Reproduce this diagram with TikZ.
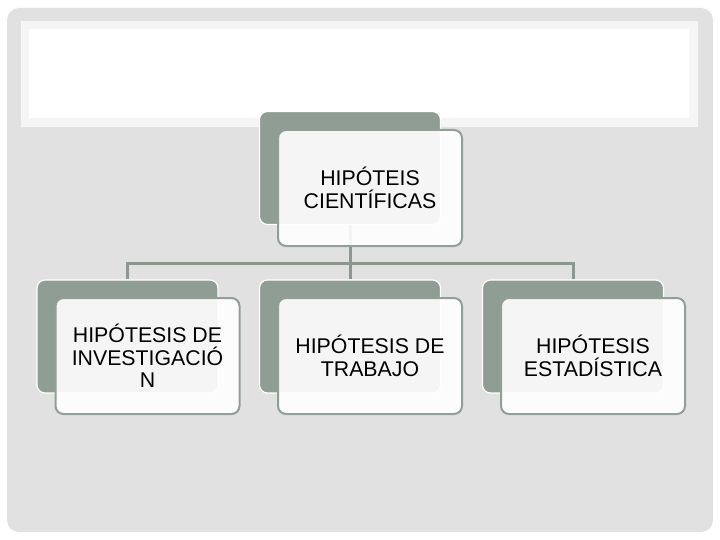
\documentclass[tikz,border=0pt]{standalone}
\usepackage{fontspec}
\setmainfont{Liberation Sans}
\begin{document}
\begin{tikzpicture}[x=1pt,y=-1pt,
  backbox/.style={rectangle, rounded corners=8pt, fill=boxgrey, draw=white, line width=1.2pt,
    minimum width=181pt, minimum height=113pt, inner sep=0pt},
  frontbox/.style={rectangle, rounded corners=8pt, fill=white, fill opacity=0.9, text opacity=1,
    draw=edgegrey, line width=2pt, minimum width=184pt, minimum height=116pt, inner sep=1pt,
    align=center, font=\fontsize{21.3}{22.5}\selectfont},
  conn/.style={draw=linegrey, line width=3pt}
]
\definecolor{boxgrey}{HTML}{909D95}
\definecolor{edgegrey}{HTML}{939E97}
\definecolor{linegrey}{HTML}{8C978F}
\definecolor{bggrey}{HTML}{E1E1E1}
\definecolor{bannerrim}{HTML}{F4F5F4}
\useasboundingbox (0,0) rectangle (720,540);
\fill[white] (0,0) rectangle (720,540);
\fill[bggrey, rounded corners=12pt] (7,8) rectangle (713,532);
\fill[bannerrim] (21,21) rectangle (698,127);
\fill[white] (29,29) rectangle (689,118);

% back boxes
\node[backbox] (topback) at (350,168) {};
\node[backbox] (c1back) at (127.5,336.5) {};
\node[backbox] (c2back) at (350,336.5) {};
\node[backbox] (c3back) at (573,336.5) {};

% connectors
\coordinate (bus) at (350,263);
\draw[conn] (topback.south) -- (bus);
\draw[conn] (c1back.north) -- (c1back.north |- bus) -- (c3back.north |- bus) -- (c3back.north);
\draw[conn] (bus) -- (c2back.north);

% front boxes
\node[frontbox] (topfront) at (370,188) {HIPÓTEIS\\CIENTÍFICAS};
\node[frontbox] (c1front) at (147.5,356) {HIPÓTESIS DE\\INVESTIGACIÓ\\N};
\node[frontbox] (c2front) at (370,356) {HIPÓTESIS DE\\TRABAJO};
\node[frontbox] (c3front) at (593,356) {HIPÓTESIS\\ESTADÍSTICA};
\end{tikzpicture}
\end{document}
